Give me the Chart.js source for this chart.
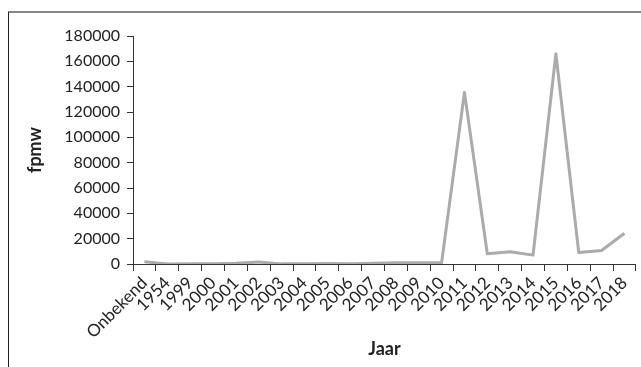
<!DOCTYPE html>
<html>
<head>
<meta charset="utf-8">
<script src="https://cdn.jsdelivr.net/npm/chart.js@4/dist/chart.umd.min.js"></script>
<style>
  html, body { margin: 0; padding: 0; background: #fff; }
  #wrap { position: relative; width: 641px; height: 367px; }
</style>
</head>
<body>
<div id="wrap"><canvas id="chart-context" width="641" height="367"></canvas></div>
<script>
"use strict";
const jaren = [
  "Onbekend", "1954", "1999", "2000", "2001", "2002", "2003", "2004",
  "2005", "2006", "2007", "2008", "2009", "2010", "2011", "2012",
  "2013", "2014", "2015", "2016", "2017", "2018",
];
const fpmw = [
  1800, 0, 100, 200, 500, 1500, 100, 100,
  400, 100, 500, 1000, 1000, 1000, 135500, 8100,
  9600, 7000, 166000, 9100, 10700, 24300,
];
const yTicks = [0, 20000, 40000, 60000, 80000, 100000, 120000, 140000, 160000, 180000];

const axisColor = "#333";
const tickFont = { family: "Lato", size: 16 };
const xTickFont = { family: "Lato", size: 17 };
const titleFont = { family: "Lato", size: 18, weight: "bold" };

// grey frame like the cut-out in the original
const frame = {
  id: "frame",
  beforeDraw(chart) {
    const c = chart.ctx;
    c.save();
    c.strokeStyle = "#888";
    c.lineWidth = 2;
    c.beginPath();
    c.moveTo(8, 12);
    c.lineTo(641, 12);
    c.stroke();
    c.strokeStyle = "#222";
    c.lineWidth = 1;
    c.beginPath();
    c.moveTo(8.5, 12);
    c.lineTo(8.5, 367);
    c.stroke();
    c.restore();
  },
};

const chartCxt = document.querySelector("#chart-context").getContext("2d");
new Chart(chartCxt, {
  type: "line",
  data: {
    labels: jaren,
    datasets: [
      {
        label: "fpmw",
        data: fpmw,
        borderColor: "#ababab",
        borderWidth: 3,
        borderJoinStyle: "round",
        pointRadius: 0,
        tension: 0,
        fill: false,
      },
    ],
  },
  options: {
    responsive: false,
    animation: false,
    layout: { padding: { top: 36, right: 5, bottom: 0, left: 0 } },
    plugins: { legend: { display: false }, tooltip: { enabled: false } },
    scales: {
      x: {
        offset: true,
        grid: {
          offset: true,
          drawOnChartArea: false,
          drawTicks: true,
          tickLength: 7,
          color: axisColor,
        },
        border: { display: true, color: axisColor, width: 1 },
        ticks: {
          font: xTickFont,
          color: "#222",
          maxRotation: 45,
          minRotation: 45,
          autoSkip: false,
          padding: 2,
        },
        title: {
          display: true,
          text: "Jaar",
          font: titleFont,
          color: "#222",
          padding: { top: 0, bottom: 7 },
        },
        afterFit(scale) {
          scale.height = 103;
        },
      },
      y: {
        min: 0,
        max: 180000,
        afterBuildTicks(scale) {
          scale.ticks = yTicks.map((v) => ({ value: v }));
        },
        grid: {
          drawOnChartArea: false,
          drawTicks: true,
          tickLength: 6,
          color: axisColor,
        },
        border: { display: true, color: axisColor, width: 1 },
        ticks: {
          font: tickFont,
          color: "#222",
          padding: 7,
          callback: (v) => String(v),
        },
        title: {
          display: true,
          text: "fpmw",
          font: titleFont,
          color: "#222",
          padding: { top: 24, bottom: 0 },
        },
        afterFit(scale) {
          scale.width = 133;
        },
      },
    },
  },
  plugins: [frame],
});
</script>
</body>
</html>
